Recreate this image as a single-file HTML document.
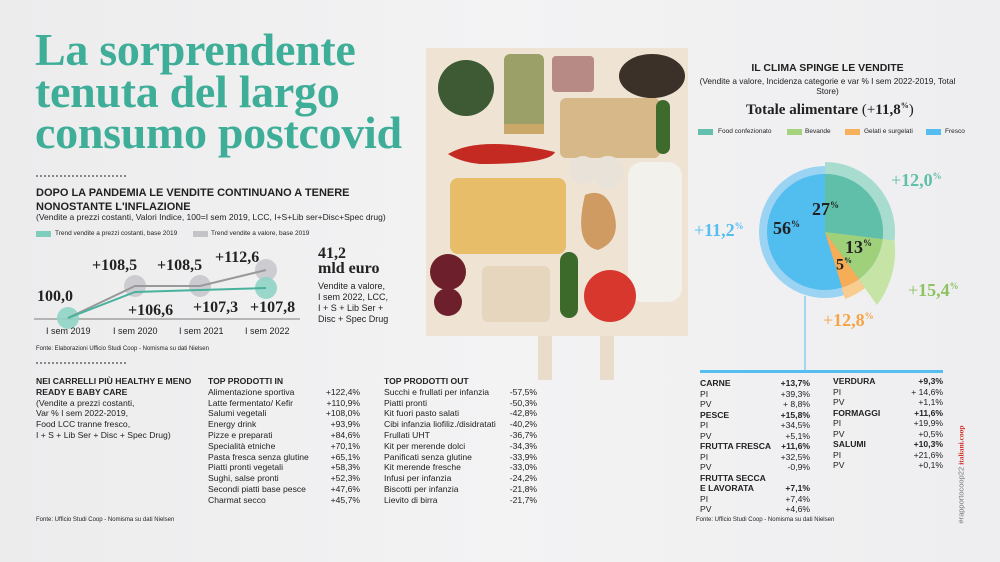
<!DOCTYPE html>
<html><head><meta charset="utf-8"><style>
body{margin:0;width:1000px;height:562px;overflow:hidden;background:linear-gradient(90deg,#ececed,#f3f3f4 50%,#eeeef0);font-family:"Liberation Sans",sans-serif;color:#222;position:relative}
.a{position:absolute;white-space:nowrap}
.serif{font-family:"Liberation Serif",serif;font-weight:bold}
.t{font-size:8.6px;line-height:10.8px}
.b{font-weight:bold}
.r{text-align:right}
</style></head><body>
<div class="a serif" style="left:35px;top:29px;font-size:46px;line-height:41.5px;color:#3fae99;letter-spacing:-0.3px">La sorprendente<br>tenuta del largo<br>consumo postcovid</div>
<div class="a" style="left:36px;top:175px;width:90px;border-top:2px dotted #888"></div>
<div class="a b" style="left:36px;top:186px;font-size:11px;line-height:14px">DOPO LA PANDEMIA LE VENDITE CONTINUANO A TENERE<br>NONOSTANTE L'INFLAZIONE</div>
<div class="a" style="left:36px;top:212px;font-size:8.5px">(Vendite a prezzi costanti, Valori Indice, 100=I sem 2019, LCC, I+S+Lib ser+Disc+Spec drug)</div>
<div class="a" style="left:36px;top:231px;width:15px;height:6px;background:#7fcdbd"></div>
<div class="a" style="left:55px;top:230px;font-size:6.5px">Trend vendite a prezzi costanti, base 2019</div>
<div class="a" style="left:193px;top:231px;width:15px;height:6px;background:#c4c4c8"></div>
<div class="a" style="left:211px;top:230px;font-size:6.5px">Trend vendite a valore, base 2019</div>
<svg class="a" style="left:0;top:240px" width="310" height="100">
<line x1="34" y1="79" x2="300" y2="79" stroke="#555" stroke-width="0.8"/>
<g fill="#c9c9cd" opacity="0.9"><circle cx="135" cy="46" r="11"/><circle cx="200" cy="46" r="11"/><circle cx="266" cy="30" r="11"/></g>
<g fill="#8fd4c5" opacity="0.9"><circle cx="68" cy="78" r="11"/><circle cx="266" cy="48" r="11"/></g>
<polyline points="68,78 135,46 200,46 266,30" fill="none" stroke="#999" stroke-width="2"/>
<polyline points="68,78 135,52 200,50 266,48" fill="none" stroke="#48b29d" stroke-width="2"/>
</svg>
<div class="a serif" style="left:37px;top:288px;font-size:16px">100,0</div>
<div class="a serif" style="left:92px;top:257px;font-size:16px">+108,5</div>
<div class="a serif" style="left:157px;top:257px;font-size:16px">+108,5</div>
<div class="a serif" style="left:215px;top:249px;font-size:16px">+112,6</div>
<div class="a serif" style="left:128px;top:302px;font-size:16px">+106,6</div>
<div class="a serif" style="left:193px;top:299px;font-size:16px">+107,3</div>
<div class="a serif" style="left:250px;top:299px;font-size:16px">+107,8</div>
<div class="a" style="left:46px;top:326px;font-size:9px">I sem 2019</div>
<div class="a" style="left:113px;top:326px;font-size:9px">I sem 2020</div>
<div class="a" style="left:179px;top:326px;font-size:9px">I sem 2021</div>
<div class="a" style="left:245px;top:326px;font-size:9px">I sem 2022</div>
<div class="a serif" style="left:318px;top:246px;font-size:16px;line-height:15px">41,2<br>mld euro</div>
<div class="a" style="left:318px;top:281px;font-size:9px;line-height:11px">Vendite a valore,<br>I sem 2022, LCC,<br>I + S + Lib Ser +<br>Disc + Spec Drug</div>
<div class="a" style="left:36px;top:346px;font-size:6px">Fonte: Elaborazioni Ufficio Studi Coop - Nomisma su dati Nielsen</div>
<div class="a" style="left:36px;top:362px;width:90px;border-top:2px dotted #888"></div>
<div class="a t" style="left:36px;top:376px"><b>NEI CARRELLI PIÙ HEALTHY E MENO<br>READY E BABY CARE</b><br>(Vendite a prezzi costanti,<br>Var % I sem 2022-2019,<br>Food LCC tranne fresco,<br>I + S + Lib Ser + Disc + Spec Drug)</div>
<div class="a t" style="left:208px;top:376px"><b>TOP PRODOTTI IN</b><br>Alimentazione sportiva<br>Latte fermentato/ Kefir<br>Salumi vegetali<br>Energy drink<br>Pizze e preparati<br>Specialità etniche<br>Pasta fresca senza glutine<br>Piatti pronti vegetali<br>Sughi, salse pronti<br>Secondi piatti base pesce<br>Charmat secco</div>
<div class="a t r" style="left:300px;width:60px;top:376px"><br>+122,4%<br>+110,9%<br>+108,0%<br>+93,9%<br>+84,6%<br>+70,1%<br>+65,1%<br>+58,3%<br>+52,3%<br>+47,6%<br>+45,7%</div>
<div class="a t" style="left:384px;top:376px"><b>TOP PRODOTTI OUT</b><br>Succhi e frullati per infanzia<br>Piatti pronti<br>Kit fuori pasto salati<br>Cibi infanzia liofiliz./disidratati<br>Frullati UHT<br>Kit per merende dolci<br>Panificati senza glutine<br>Kit merende fresche<br>Infusi per infanzia<br>Biscotti per infanzia<br>Lievito di birra</div>
<div class="a t r" style="left:480px;width:57px;top:376px"><br>-57,5%<br>-50,3%<br>-42,8%<br>-40,2%<br>-36,7%<br>-34,3%<br>-33,9%<br>-33,0%<br>-24,2%<br>-21,8%<br>-21,7%</div>
<div class="a" style="left:36px;top:517px;font-size:6px">Fonte: Ufficio Studi Coop - Nomisma su dati Nielsen</div>

<svg class="a" style="left:420px;top:40px" width="280" height="340">
<rect x="118" y="290" width="14" height="50" fill="#eadccb"/><rect x="180" y="290" width="14" height="50" fill="#eadccb"/>
<rect x="6" y="8" width="262" height="288" fill="#efe3d4"/>
<circle cx="46" cy="48" r="28" fill="#3d5a35"/>
<rect x="84" y="14" width="40" height="78" rx="6" fill="#9aa067"/><rect x="84" y="84" width="40" height="10" fill="#c9a86a"/>
<rect x="132" y="16" width="42" height="36" rx="4" fill="#b88a86"/>
<ellipse cx="232" cy="36" rx="33" ry="22" fill="#3b3128"/>
<rect x="140" y="58" width="100" height="60" rx="6" fill="#d7b889"/>
<rect x="236" y="60" width="14" height="54" rx="7" fill="#3e6a2c"/>
<path d="M28 114 Q60 95 135 112 Q130 124 60 124 Q40 122 28 114Z" fill="#c42a22"/>
<circle cx="163" cy="130" r="14" fill="#e8e2d8"/><circle cx="188" cy="132" r="16" fill="#e8e2d8"/>
<rect x="30" y="138" width="116" height="76" rx="8" fill="#e8bd6a"/>
<path d="M165 155 q20 -8 28 15 q10 30 -15 40 q-25 -5 -13 -55Z" fill="#cf9b62"/>
<rect x="208" y="122" width="54" height="140" rx="14" fill="#f3f1ec"/>
<circle cx="28" cy="232" r="18" fill="#6e1f2c"/><circle cx="28" cy="262" r="14" fill="#6e1f2c"/>
<rect x="62" y="226" width="68" height="56" rx="6" fill="#e6d6be"/>
<rect x="140" y="212" width="18" height="66" rx="9" fill="#3b6a2a"/>
<circle cx="190" cy="256" r="26" fill="#d8372e"/>
</svg>

<div class="a b" style="left:700px;top:62px;width:255px;text-align:center;font-size:10.5px">IL CLIMA SPINGE LE VENDITE</div>
<div class="a" style="left:695px;top:76px;width:265px;text-align:center;font-size:8.3px;line-height:10px;white-space:normal">(Vendite a valore, Incidenza categorie e var % I sem 2022-2019, Total Store)</div>
<div class="a serif" style="left:746px;top:101px;font-size:15px">Totale alimentare <span style="font-weight:normal">(+</span>11,8<sup style="font-size:8px">%</sup><span style="font-weight:normal">)</span></div>
<div class="a" style="left:698px;top:129px;width:15px;height:6px;background:#63c0ac"></div><div class="a" style="left:718px;top:128px;font-size:6.5px">Food confezionato</div>
<div class="a" style="left:787px;top:129px;width:15px;height:6px;background:#a5d37d"></div><div class="a" style="left:805px;top:128px;font-size:6.5px">Bevande</div>
<div class="a" style="left:845px;top:129px;width:15px;height:6px;background:#f7b15a"></div><div class="a" style="left:864px;top:128px;font-size:6.5px">Gelati e surgelati</div>
<div class="a" style="left:926px;top:129px;width:15px;height:6px;background:#56bdf0"></div><div class="a" style="left:945px;top:128px;font-size:6.5px">Fresco</div>
<svg class="a" style="left:740px;top:150px" width="200" height="230">
<g transform="translate(85,82)">
<circle r="66" fill="#9bd3f2"/>
<path d="M0 0 L0 -70 A70 70 0 0 1 69.5 8.5Z" fill="#a8dccf"/>
<path d="M0 0 L69.5 8.5 A90 90 0 0 1 52 73Z" fill="#c5e4a6"/>
<path d="M0 0 L40 56 A70 70 0 0 1 20 67Z" fill="#f9cc90"/>
<circle r="58" fill="#52bdef"/>
<path d="M0 0 L0 -58 A58 58 0 0 1 57.6 7Z" fill="#5fbfa9"/>
<path d="M0 0 L57.6 7 A58 58 0 0 1 34 47Z" fill="#9fd07a"/>
<path d="M0 0 L34 47 A58 58 0 0 1 17 55.5Z" fill="#f6ad55"/>
<line x1="-20" y1="64" x2="-20" y2="140" stroke="#56bdf0" stroke-width="1"/>
</g>
</svg>
<div class="a serif" style="left:812px;top:199px;font-size:18px">27<sup style="font-size:9px">%</sup></div>
<div class="a serif" style="left:773px;top:218px;font-size:18px">56<sup style="font-size:9px">%</sup></div>
<div class="a serif" style="left:845px;top:237px;font-size:18px">13<sup style="font-size:9px">%</sup></div>
<div class="a serif" style="left:836px;top:256px;font-size:16px">5<sup style="font-size:8px">%</sup></div>
<div class="a serif" style="left:891px;top:170px;font-size:18px;color:#5fbfa9"><span style="font-weight:normal">+</span>12,0<sup style="font-size:9px">%</sup></div>
<div class="a serif" style="left:694px;top:220px;font-size:18px;color:#56bdf0"><span style="font-weight:normal">+</span>11,2<sup style="font-size:9px">%</sup></div>
<div class="a serif" style="left:908px;top:280px;font-size:18px;color:#8cc260"><span style="font-weight:normal">+</span>15,4<sup style="font-size:9px">%</sup></div>
<div class="a serif" style="left:823px;top:310px;font-size:18px;color:#f6a445"><span style="font-weight:normal">+</span>12,8<sup style="font-size:9px">%</sup></div>
<div class="a" style="left:700px;top:370px;width:243px;height:3px;background:#56bdf0"></div>
<div class="a t" style="left:700px;top:378px;line-height:10.5px"><b>CARNE</b><br>PI<br>PV<br><b>PESCE</b><br>PI<br>PV<br><b>FRUTTA FRESCA</b><br>PI<br>PV<br><b>FRUTTA SECCA</b><br><b>E LAVORATA</b><br>PI<br>PV</div>
<div class="a t r" style="left:760px;width:50px;top:378px;line-height:10.5px"><b>+13,7%</b><br>+39,3%<br>+ 8,8%<br><b>+15,8%</b><br>+34,5%<br>+5,1%<br><b>+11,6%</b><br>+32,5%<br>-0,9%<br><br><b>+7,1%</b><br>+7,4%<br>+4,6%</div>
<div class="a t" style="left:833px;top:376px;line-height:10.5px"><b>VERDURA</b><br>PI<br>PV<br><b>FORMAGGI</b><br>PI<br>PV<br><b>SALUMI</b><br>PI<br>PV</div>
<div class="a t r" style="left:893px;width:50px;top:376px;line-height:10.5px"><b>+9,3%</b><br>+ 14,6%<br>+1,1%<br><b>+11,6%</b><br>+19,9%<br>+0,5%<br><b>+10,3%</b><br>+21,6%<br>+0,1%</div>
<div class="a" style="left:696px;top:517px;font-size:6px">Fonte: Ufficio Studi Coop - Nomisma su dati Nielsen</div>
<div class="a" style="left:912px;top:470px;transform:rotate(-90deg);font-size:7.5px;color:#777">#rapportocoop22 <b style="color:#d2342c;font-family:'Liberation Serif',serif">italiani.coop</b></div>
</body></html>
